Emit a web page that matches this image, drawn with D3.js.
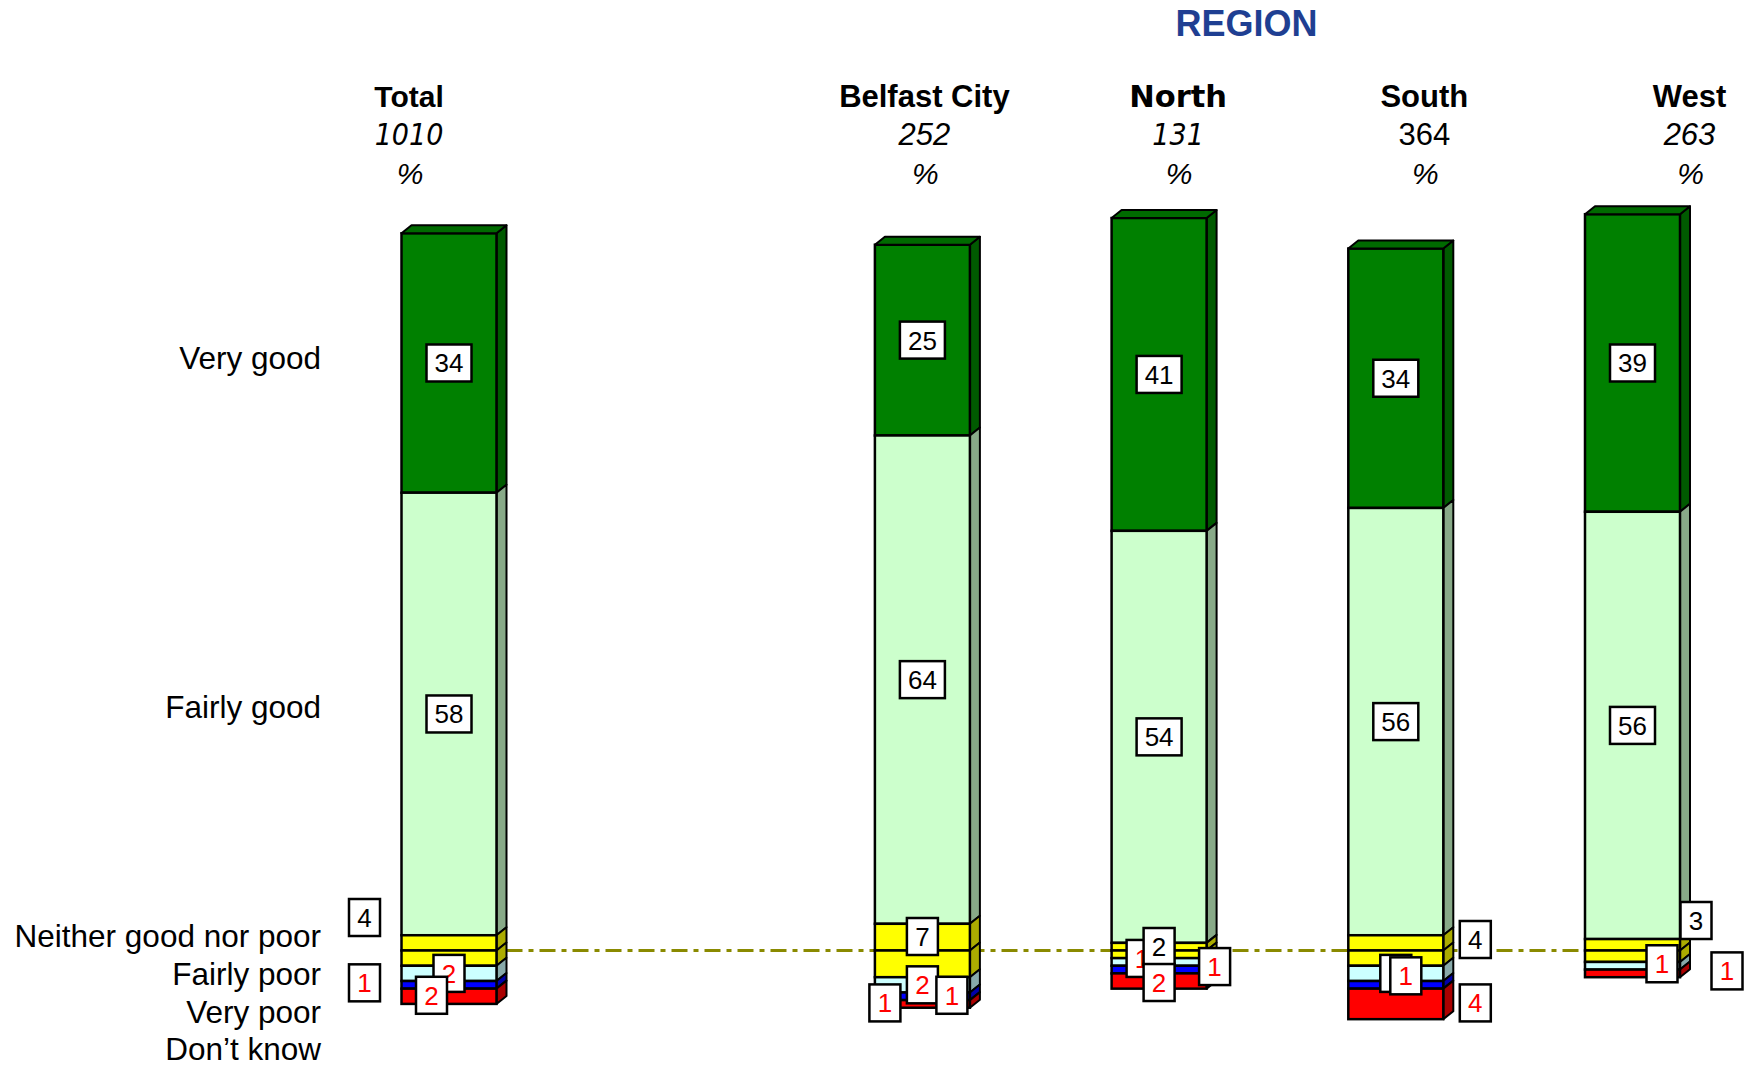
<!DOCTYPE html>
<html>
<head>
<meta charset="utf-8">
<script src="https://cdn.jsdelivr.net/npm/d3@7"></script>
<style>
  body { margin: 0; background: #fff; }
  svg { display: block; }
</style>
</head>
<body>
<svg id="chart" width="1755" height="1068"></svg>
<script>
// columns and their sample sizes
const columns = ["Total", "Belfast City", "North", "South", "West"];
const bases = ["1010", "252", "131", "364", "263"];
const categories = ["Very good", "Fairly good", "Neither good nor poor", "Fairly poor", "Very poor", "Don\u2019t know"];

// % per column
const veryGood   = [34, 25, 41, 34, 39];
const fairlyGood = [58, 64, 54, 56, 56];
const neither    = [4, 7, 2, 4, 3];
const fairlyPoor = [2, 2, 1, 2, 1];
const veryPoor   = [1, 1, 1, 1, 0];
const dontKnow   = [2, 1, 2, 4, 1];

const series = [veryGood, fairlyGood, neither, fairlyPoor, veryPoor, dontKnow];

const fronts = ["#008000", "#ccffcc", "#ffff00", "#ccffff", "#0000ff", "#ff0000"];
const sides  = ["#005a00", "#88aa88", "#acac00", "#88aaaa", "#0000aa", "#aa0000"];
const textCol = ["#000", "#000", "#000", "#ff0000", "#ff0000", "#ff0000"];

const svg = d3.select("#chart");
const W = 1755, H = 1068;
svg.append("rect").attr("width", W).attr("height", H).attr("fill", "#fff");

// slot "gap" leaves the empty space between Total and the regions
const x = d3.scalePoint().domain(["Total", "gap", ...columns.slice(1)]).range([449, 1632.5]);
const y0 = 950.5;            // middle of the neutral category
const k = 7.63;              // px per percent
const y = d3.scaleLinear().domain([0, 100]).range([y0, y0 - 100 * k]);

const barW = 95, dx = 10, dy = -8;

// label shifts for the small segments (px)
const labelNudge = {
  "Total":        {2: [-84.5, -33], 4: [-84.5, -2], 5: [-17.5, -1]},
  "Belfast City": {2: [0, -14], 4: [29.5, -1], 5: [-37.5, -1]},
  "North":        {2: [0, -4], 3: [-17, -3.5], 4: [55.5, -3], 5: [0, 1.5]},
  "South":        {2: [79.5, -11], 4: [10, -9], 5: [79.5, -1]},
  "West":         {2: [63.5, -30], 3: [29.5, -2], 5: [94.5, -2.5]}
};
const headerShift = [-40, 2, 19, 28.5, 57];

// reference line through the neutral midpoints
svg.append("line")
  .attr("x1", x("Total") + barW / 2 + dx).attr("x2", x("West") - barW / 2)
  .attr("y1", y0).attr("y2", y0)
  .attr("stroke", "#8a8a00").attr("stroke-width", 3)
  .attr("stroke-dasharray", "16,6,5,6");

function segmentsFor(i) {
  const n = neither[i];
  const segs = [];
  const fgLo = n / 2, fgHi = fgLo + fairlyGood[i];
  segs.push({cat: 0, lo: fgHi, hi: fgHi + veryGood[i]});
  segs.push({cat: 1, lo: fgLo, hi: fgHi});
  segs.push({cat: 2, lo: 0, hi: n / 2});
  segs.push({cat: 2, lo: -n / 2, hi: 0});
  let c = -n / 2;
  [3, 4, 5].forEach(j => {
    const v = series[j][i];
    segs.push({cat: j, lo: c - v, hi: c});
    c -= v;
  });
  return segs.filter(s => s.hi > s.lo);
}

const bars = svg.append("g");
columns.forEach((col, i) => {
  const cx = x(col), xl = cx - barW / 2, xr = cx + barW / 2;
  const g = bars.append("g");
  const segs = segmentsFor(i);

  segs.forEach(s => {
    const yt = y(s.hi), yb = y(s.lo);
    g.append("path")
      .attr("d", `M${xr},${yt}L${xr + dx},${yt + dy}L${xr + dx},${yb + dy}L${xr},${yb}Z`)
      .attr("fill", sides[s.cat]).attr("stroke", "#000").attr("stroke-width", 2)
      .attr("stroke-linejoin", "round");
    g.append("rect")
      .attr("x", xl).attr("y", yt).attr("width", barW).attr("height", yb - yt)
      .attr("fill", fronts[s.cat]).attr("stroke", "#000").attr("stroke-width", 2.5);
  });

  const top = segs[0];
  const yt = y(top.hi);
  g.append("path")
    .attr("d", `M${xl},${yt}L${xl + dx},${yt + dy}L${xr + dx},${yt + dy}L${xr},${yt}Z`)
    .attr("fill", "#006a00").attr("stroke", "#000").attr("stroke-width", 2)
    .attr("stroke-linejoin", "round");
});

// value labels
const labels = svg.append("g");
columns.forEach((col, i) => {
  const cx = x(col);
  const segs = segmentsFor(i);
  [0, 1, 3, 2, 4, 5].forEach(j => {
    const v = series[j][i];
    if (!v) return;
    const parts = segs.filter(s => s.cat === j);
    const mid = (d3.min(parts, s => s.lo) + d3.max(parts, s => s.hi)) / 2;
    const nudge = (labelNudge[col][j]) || [0, 0];
    const lx = cx + nudge[0], ly = y(mid) + nudge[1];
    const bw = String(v).length > 1 ? 45 : 31, bh = 37;
    labels.append("rect")
      .attr("x", lx - bw / 2).attr("y", ly - bh / 2)
      .attr("width", bw).attr("height", bh)
      .attr("fill", "#fff").attr("stroke", "#000").attr("stroke-width", 2.5);
    labels.append("text")
      .attr("x", lx).attr("y", ly + 9.5)
      .attr("text-anchor", "middle")
      .attr("font-family", "'Liberation Sans', Arial, sans-serif")
      .attr("font-size", 26)
      .attr("fill", textCol[j])
      .text(v);
  });
});

// category labels on the left
const catY = [
  (y(neither[0] / 2 + fairlyGood[0]) + y(neither[0] / 2 + fairlyGood[0] + veryGood[0])) / 2 + 6,
  (y(neither[0] / 2) + y(neither[0] / 2 + fairlyGood[0])) / 2 + 4,
  947, 985, 1023, 1060
];
svg.append("g").selectAll("text").data(categories).join("text")
  .attr("x", 321).attr("y", (d, j) => catY[j])
  .attr("text-anchor", "end")
  .attr("font-family", "'Liberation Sans', Arial, sans-serif")
  .attr("font-size", 31.5)
  .attr("fill", "#000")
  .text(d => d);

// column headers
const nameFont = ["'Liberation Sans', Arial", "'Liberation Sans', Arial", "'DejaVu Sans'", "'Liberation Sans', Arial", "'Liberation Sans', Arial"];
const nameSize = [30, 31, 30.5, 31, 31];
const baseFont = ["'DejaVu Sans Condensed', 'DejaVu Sans'", "'Liberation Sans'", "'DejaVu Sans Condensed', 'DejaVu Sans'", "'Liberation Sans'", "'Liberation Sans'"];
const baseStyle = ["italic", "italic", "italic", "normal", "italic"];
const baseSize = [30, 31, 30, 31, 31];

const head = svg.append("g").attr("text-anchor", "middle").attr("fill", "#000");
columns.forEach((col, i) => {
  const hx = x(col) + headerShift[i];
  head.append("text").attr("x", hx).attr("y", 107)
    .attr("font-family", nameFont[i]).attr("font-size", nameSize[i]).attr("font-weight", "bold")
    .text(col);
  head.append("text").attr("x", hx).attr("y", 145)
    .attr("font-family", baseFont[i]).attr("font-size", baseSize[i])
    .attr("font-style", baseStyle[i]).attr("font-stretch", "condensed")
    .text(bases[i]);
  head.append("text").attr("x", hx + 1).attr("y", 184)
    .attr("font-family", "'Liberation Sans', Arial").attr("font-size", 30)
    .attr("font-style", "italic")
    .text("%");
});

svg.append("text")
  .attr("x", 1246.5).attr("y", 36)
  .attr("text-anchor", "middle")
  .attr("font-family", "'Liberation Sans', Arial, sans-serif")
  .attr("font-size", 36).attr("font-weight", "bold")
  .attr("fill", "#1f3f92")
  .text("REGION");
</script>
</body>
</html>
